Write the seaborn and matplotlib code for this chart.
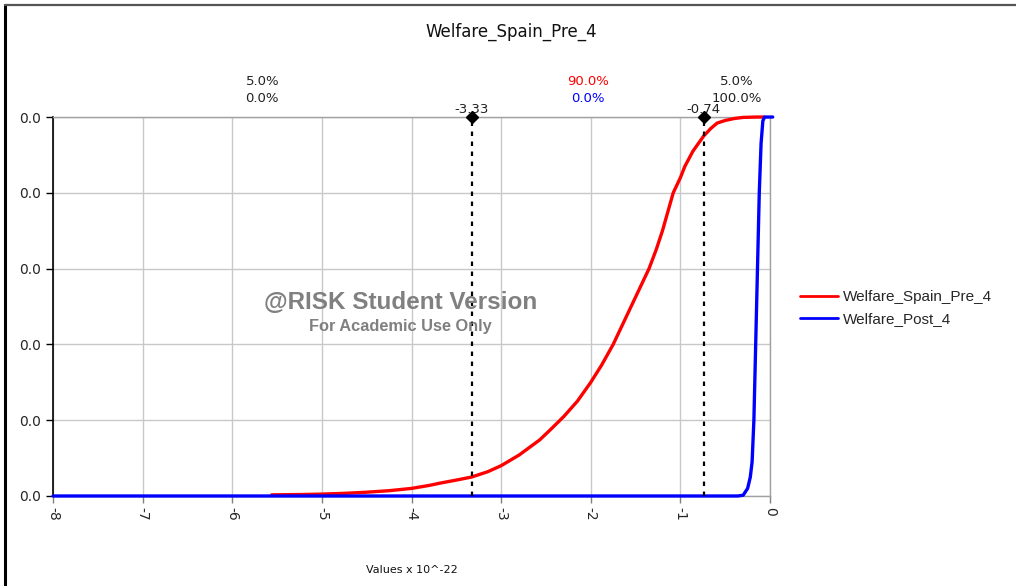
import numpy as np
import pandas as pd
import matplotlib
matplotlib.use("Agg")
import matplotlib.pyplot as plt
import seaborn as sns
from matplotlib.lines import Line2D
from matplotlib.transforms import blended_transform_factory

# valores (x en unidades de 10^-22)
red_x = [-5.56, -5.2, -5.0, -4.75, -4.5, -4.25, -4.0, -3.8, -3.68, -3.5, -3.33, -3.15,
         -3.0, -2.8, -2.57, -2.45, -2.3, -2.15, -2.0, -1.88, -1.75, -1.65, -1.55, -1.45,
         -1.35, -1.27, -1.2, -1.14, -1.08, -1.0, -0.95, -0.86, -0.8, -0.74, -0.66, -0.59,
         -0.5, -0.4, -0.3, -0.15, -0.07]
red_y = [0.003, 0.004, 0.005, 0.007, 0.01, 0.014, 0.02, 0.028, 0.034, 0.042, 0.05, 0.064,
         0.08, 0.108, 0.148, 0.175, 0.21, 0.25, 0.30, 0.345, 0.40, 0.45, 0.50, 0.55,
         0.60, 0.65, 0.70, 0.75, 0.80, 0.84, 0.87, 0.91, 0.93, 0.95, 0.97, 0.984,
         0.991, 0.996, 0.999, 1.0, 1.0]
blue_x = [-8.0, -0.36, -0.3, -0.25, -0.22, -0.2, -0.18, -0.16, -0.14, -0.12, -0.1, -0.08, -0.06, 0.03]
blue_y = [0.0, 0.0, 0.002, 0.02, 0.05, 0.09, 0.2, 0.4, 0.6, 0.8, 0.93, 0.99, 1.0, 1.0]

names = ["Welfare_Spain_Pre_4", "Welfare_Post_4"]
colors = ["#ff0000", "#0000ff"]

marks = [-3.33, -0.74]
mark_labels = ["-3.33", "-0.74"]
band_top = ["5.0%", "90.0%", "5.0%"]
band_bottom = ["0.0%", "0.0%", "100.0%"]
band_top_colors = ["#222222", "#ff0000", "#222222"]
band_bottom_colors = ["#222222", "#0000ff", "#222222"]

x_ticks = [-8, -7, -6, -5, -4, -3, -2, -1, 0]
y_ticks = [0.0, 0.2, 0.4, 0.6, 0.8, 1.0]
y_tick_labels = ["0.0"] * 6

sns.set_theme(style="white")
plt.rcParams["font.family"] = ["DejaVu Sans"]

df = pd.concat([
    pd.DataFrame({"x": red_x, "y": red_y, "serie": names[0]}),
    pd.DataFrame({"x": blue_x, "y": blue_y, "serie": names[1]}),
])

fig = plt.figure(figsize=(10.16, 5.86), dpi=100)
ax = fig.add_axes([0.0522, 0.1536, 0.7057, 0.6467])

for name, col in zip(names, colors):
    sub = df[df["serie"] == name]
    sns.lineplot(data=sub, x="x", y="y", color=col, lw=2.4, sort=False,
                 estimator=None, ax=ax, clip_on=False, zorder=3)

ax.set_xlim(-8, 0)
ax.set_ylim(0, 1)
ax.set_xticks(x_ticks)
ax.set_xticklabels([str(t) for t in x_ticks], rotation=270, fontsize=10)
ax.set_yticks(y_ticks)
ax.set_yticklabels(y_tick_labels, fontsize=10)
ax.grid(True, color="#c8c8c8", lw=1)
ax.set_xlabel("")
ax.set_ylabel("")
ax.tick_params(axis="y", length=5, width=1, color="black", direction="out", left=True, pad=4)
ax.tick_params(axis="x", length=5, width=1, color="#808080", direction="out", bottom=True, pad=3)

for side in ["top", "right", "bottom"]:
    ax.spines[side].set_color("#a0a0a0")
    ax.spines[side].set_linewidth(1)
ax.spines["left"].set_color("black")
ax.spines["left"].set_linewidth(1.2)

# lineas de percentiles
trans = blended_transform_factory(ax.transData, ax.transAxes)
for m, lab in zip(marks, mark_labels):
    ax.axvline(m, color="black", ls=(0, (2, 2.5)), lw=1.6, zorder=4)
    ax.plot([m], [1.0], marker="D", color="black", ms=6, clip_on=False, zorder=5)
    ax.text(m, 1.02, lab, transform=trans, ha="center", va="center", fontsize=9.5, color="#222222")

edges = [-8] + marks + [0]
for i in range(3):
    mid = (edges[i] + edges[i + 1]) / 2
    ax.text(mid, 1.093, band_top[i], transform=trans, ha="center", va="center",
            fontsize=9.5, color=band_top_colors[i])
    ax.text(mid, 1.05, band_bottom[i], transform=trans, ha="center", va="center",
            fontsize=9.5, color=band_bottom_colors[i])

fig.text(0.503, 0.945, "Welfare_Spain_Pre_4", ha="center", va="center", fontsize=12, color="#111111")
fig.text(0.405, 0.027, "Values x 10^-22", ha="center", va="center", fontsize=8, color="#111111")

# marca de agua
fig.text(0.394, 0.483, "@RISK Student Version", ha="center", va="center", fontsize=17.5,
         fontweight="bold", family="Liberation Sans", color="#808080")
fig.text(0.394, 0.442, "For Academic Use Only", ha="center", va="center", fontsize=11.8,
         fontweight="bold", family="Liberation Sans", color="#808080")

handles = [Line2D([0], [0], color=c, lw=2) for c in colors]
leg = fig.legend(handles, names, loc="center left", bbox_to_anchor=(0.774, 0.474),
                 frameon=False, prop={"family": "Liberation Sans", "size": 11},
                 handlelength=2.5, handletextpad=0.3, labelspacing=0.5)

# marco
fig.add_artist(Line2D([0.0045, 0.0045], [0.0, 0.991], color="black", lw=2.2, transform=fig.transFigure))
fig.add_artist(Line2D([0.0045, 1.0], [0.991, 0.991], color="#555555", lw=1.6, transform=fig.transFigure))

fig.savefig("out.png", dpi=100)
